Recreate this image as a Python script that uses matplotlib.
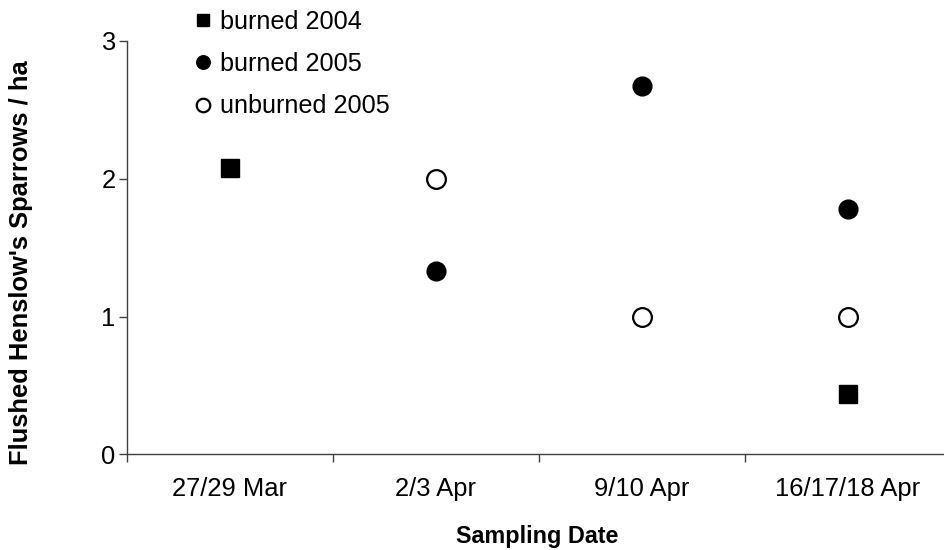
import matplotlib
matplotlib.use("Agg")
import matplotlib.pyplot as plt

plt.rcParams['font.family'] = ['Liberation Sans', 'DejaVu Sans']

categories = ["27/29 Mar", "2/3 Apr", "9/10 Apr", "16/17/18 Apr"]
burned_2004 = [2.08, None, None, 0.44]
burned_2005 = [None, 1.33, 2.67, 1.78]
unburned_2005 = [None, 2.0, 1.0, 1.0]
y_ticks = [0, 1, 2, 3]

def pts(vals):
    xs = [i for i, v in enumerate(vals) if v is not None]
    ys = [v for v in vals if v is not None]
    return xs, ys

fig = plt.figure(figsize=(9.44, 5.5), dpi=100)
ax = fig.add_axes([126.7/944, (550-454.3)/550, 824/944, (454.3-41)/550])

spine_c = '#404040'
ms = 13.5
x, y = pts(burned_2004)
ax.plot(x, y, ls='none', marker='s', ms=ms*0.95, color='black', mec='black', label='burned 2004')
x, y = pts(burned_2005)
ax.plot(x, y, ls='none', marker='o', ms=ms, color='black', mec='black', label='burned 2005')
x, y = pts(unburned_2005)
ax.plot(x, y, ls='none', marker='o', ms=ms, mfc='white', mec='black', mew=1.6, label='unburned 2005')

ax.set_xlim(-0.5, len(categories) - 0.5)
ax.set_ylim(0, 3)
ax.set_yticks(y_ticks)
ax.set_yticklabels([str(t) for t in y_ticks])
ax.set_xticks([i + 0.5 for i in range(-1, len(categories))], minor=False)
ax.set_xticklabels([])
ax.set_xticks(range(len(categories)), minor=True)
ax.set_xticklabels(categories, minor=True)

for s in ['top', 'right']:
    ax.spines[s].set_visible(False)
for s in ['left', 'bottom']:
    ax.spines[s].set_color(spine_c)
    ax.spines[s].set_linewidth(1.0)

ax.tick_params(axis='y', direction='out', length=6, width=1, color=spine_c, labelsize=18.4, pad=2)
ax.tick_params(axis='x', which='major', direction='out', length=6, width=1, color=spine_c)
ax.tick_params(axis='x', which='minor', length=0, labelsize=18.4, pad=16)

fig.text(537.5/944, 1 - 536.7/550, 'Sampling Date', ha='center', va='center',
         fontsize=16.8, fontweight='bold')
fig.text(21/944, 1 - 263/550, "Flushed Henslow's Sparrows / ha", ha='center', va='center',
         rotation=90, fontsize=18.4, fontweight='bold')

leg = ax.legend(loc='upper left', bbox_to_anchor=(192.8/944, 1 - 10/550),
                bbox_transform=fig.transFigure, frameon=False, fontsize=18.2,
                markerscale=0.72, handlelength=0.8, handletextpad=0.29,
                borderpad=0, borderaxespad=0, labelspacing=0.72)

fig.savefig('out.png', dpi=100)
